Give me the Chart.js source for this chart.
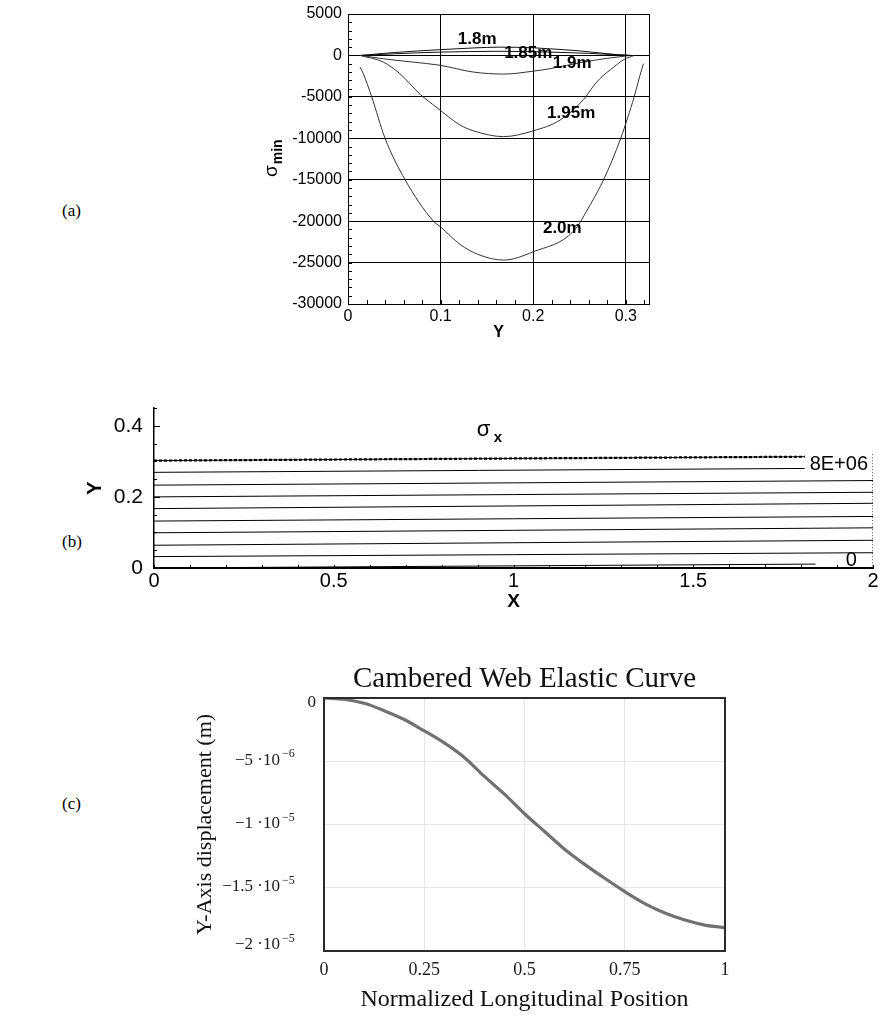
<!DOCTYPE html>
<html><head><meta charset="utf-8">
<script src="https://cdn.jsdelivr.net/npm/chart.js@4.4.1/dist/chart.umd.min.js"></script>
<style>
html,body{margin:0;padding:0;background:#fff;}
body{width:880px;height:1029px;position:relative;overflow:hidden;}
canvas{position:absolute;}
.lab{position:absolute;font-family:"Liberation Serif",serif;font-size:17px;color:#000;line-height:1;}
</style></head><body>
<div class="lab" style="left:62px;top:202px">(a)</div>
<div class="lab" style="left:62px;top:533px">(b)</div>
<div class="lab" style="left:62px;top:795px">(c)</div>
<canvas id="ca" width="440" height="350" style="left:230px;top:0px"></canvas>
<canvas id="cb" width="820" height="235" style="left:60px;top:395px"></canvas>
<canvas id="cc" width="580" height="379" style="left:190px;top:650px"></canvas>
<script>
// ================= (a) sigma_min vs Y =================
const aCurveNames = ['1.8m','1.85m','1.9m','1.95m','2.0m'];
const a18X  = [0.014,0.05,0.1,0.135,0.164,0.2,0.218,0.25,0.29,0.305];
const a18Y  = [0,350,700,900,1000,920,800,550,100,0];
const a185X = [0.014,0.05,0.1,0.164,0.22,0.26,0.305];
const a185Y = [0,200,400,500,400,250,0];
const a19X  = [0.014,0.038,0.07,0.1,0.135,0.168,0.2,0.218,0.254,0.28,0.305];
const a19Y  = [0,-400,-800,-1200,-2000,-2250,-1900,-1600,-800,-350,0];
const a195X = [0.013,0.038,0.056,0.078,0.096,0.121,0.1355,0.168,0.2,0.229,0.2545,0.265,0.272,0.287,0.298,0.309];
const a195Y = [0,-800,-2200,-4700,-6300,-8400,-9100,-9800,-9100,-7800,-5300,-3700,-2800,-1400,-500,0];
const a20X  = [0.013,0.0165,0.0256,0.04,0.0616,0.0922,0.1,0.121,0.14,0.168,0.2,0.2436,0.2616,0.276,0.2945,0.302,0.309,0.315,0.319];
const a20Y  = [-1400,-2200,-5000,-10000,-15000,-20000,-20700,-22800,-24000,-24700,-23700,-21200,-18000,-15000,-10000,-7500,-5000,-2500,-1000];
const aXTicks = [0,0.1,0.2,0.3];
const aXTickLabels = ['0','0.1','0.2','0.3'];
const aYTicks = [5000,0,-5000,-10000,-15000,-20000,-25000,-30000];
const aYTickLabels = ['5000','0','-5000','-10000','-15000','-20000','-25000','-30000'];
// label anchor (data coords) for each curve name
const aLabelX = [0.1395,0.1946,0.242,0.241,0.2314];
const aLabelY = [1920,240,-960,-6960,-20880];

// ================= (b) sigma_x contours =================
const bLineLeftY  = [0.302,0.269,0.233,0.200,0.167,0.132,0.099,0.064,0.032,0.000];
const bLineRightY = [0.313,0.280,0.246,0.213,0.182,0.145,0.113,0.078,0.043,0.011];
const bLineEndX   = [1.81,1.81,2,2,2,2,2,2,2,1.84];
const bXTicks = [0,0.5,1,1.5,2];
const bXTickLabels = ['0','0.5','1','1.5','2'];
const bYTicks = [0,0.2,0.4];
const bYTickLabels = ['0','0.2','0.4'];
const bContourLabels = ['8E+06','0'];

// ================= (c) Cambered web elastic curve =================
const cX = [0,0.05,0.1,0.15,0.2,0.25,0.3,0.35,0.4,0.45,0.5,0.55,0.6,0.65,0.7,0.75,0.8,0.85,0.9,0.95,1.0];
const cY = [0,-0.1e-6,-0.42e-6,-1.0e-6,-1.7e-6,-2.6e-6,-3.55e-6,-4.7e-6,-6.2e-6,-7.6e-6,-9.15e-6,-10.55e-6,-11.95e-6,-13.15e-6,-14.25e-6,-15.3e-6,-16.25e-6,-17.0e-6,-17.55e-6,-17.95e-6,-18.15e-6];
const cXTicks = [0,0.25,0.5,0.75,1];
const cXTickLabels = ['0','0.25','0.5','0.75','1'];
const cYTicks = [0,-5e-6,-1e-5,-1.5e-5,-2e-5];
const cYTickBase = ['0','\u22125 \u00b710','\u22121 \u00b710','\u22121.5 \u00b710','\u22122 \u00b710'];
const cYTickExp  = ['','\u22126','\u22125','\u22125','\u22125'];

// ---------- helpers ----------
const pts = (xs, ys) => xs.map((x, i) => ({x: x, y: ys[i]}));
const SANS = '"Liberation Sans", Arial, sans-serif';
const SERIF = '"Liberation Serif", "Times New Roman", serif';
function fixW(w) { return s => { s.width = w; s.paddingTop = 0; s.paddingBottom = 0; s.paddingLeft = 0; s.paddingRight = 0; }; }
function fixH(h) { return s => { s.height = h; s.paddingTop = 0; s.paddingBottom = 0; s.paddingLeft = 0; s.paddingRight = 0; }; }

function minorTicks(id, specs) {
  return {id: id, afterDraw(chart) {
    const ctx = chart.ctx, ca = chart.chartArea;
    ctx.save(); ctx.strokeStyle = '#000'; ctx.lineWidth = 1;
    specs.forEach(sp => {
      const sc = chart.scales[sp.axis];
      sp.values.forEach(v => {
        const p = Math.round(sc.getPixelForValue(v)) + 0.5;
        ctx.beginPath();
        if (sp.axis === 'x') { ctx.moveTo(p, ca.bottom); ctx.lineTo(p, ca.bottom - sp.len); }
        else { ctx.moveTo(ca.left, p); ctx.lineTo(ca.left + sp.len, p); }
        ctx.stroke();
      });
    });
    ctx.restore();
  }};
}
function range(a, b, s) { const out = []; for (let k = 0; a + k * s <= b + 1e-9; k++) out.push(+(a + k * s).toFixed(6)); return out; }

// ================= chart (a) =================
const aSeries = [[a18X,a18Y],[a185X,a185Y],[a19X,a19Y],[a195X,a195Y],[a20X,a20Y]];
new Chart(document.getElementById('ca'), {
  type: 'scatter',
  data: {datasets: aSeries.map((s, i) => ({
    label: aCurveNames[i], data: pts(s[0], s[1]), showLine: true,
    borderColor: i < 2 ? '#111' : '#333', borderWidth: 1, pointRadius: 0,
    cubicInterpolationMode: 'monotone', fill: false
  }))},
  options: {
    responsive: false, animation: false, events: [],
    layout: {autoPadding: false, padding: {top: 14, right: 21, left: 0, bottom: 8}},
    plugins: {legend: {display: false}, tooltip: {enabled: false}},
    scales: {
      x: {type: 'linear', min: 0, max: 0.325,
        afterBuildTicks: s => { s.ticks = aXTicks.map(v => ({value: v})); },
        afterFit: fixH(38),
        grid: {color: '#000', lineWidth: 1, drawTicks: false},
        border: {color: '#000', width: 1},
        ticks: {color: '#000', font: {family: SANS, size: 16}, padding: 3, maxRotation: 0,
          callback: (v, i) => aXTickLabels[i]},
        title: {display: true, text: 'Y', color: '#000', font: {family: SANS, size: 16, weight: 'bold'}, padding: {top: 0, bottom: 0}}
      },
      y: {type: 'linear', min: -30000, max: 5000,
        afterBuildTicks: s => { s.ticks = aYTicks.map(v => ({value: v})); },
        afterFit: fixW(118),
        grid: {color: '#000', lineWidth: 1, drawTicks: false},
        border: {color: '#000', width: 1},
        ticks: {color: '#000', font: {family: SANS, size: 16}, padding: 6,
          callback: (v, i) => aYTickLabels[i]}
      }
    }
  },
  plugins: [
    minorTicks('aMinor', [{axis: 'y', values: range(-30000, 5000, 1000), len: 4},
                          {axis: 'x', values: range(0, 0.32, 0.02), len: 4}]),
    {id: 'aDeco', afterDraw(chart) {
      const ctx = chart.ctx, ca = chart.chartArea, xs = chart.scales.x, ys = chart.scales.y;
      ctx.save();
      ctx.strokeStyle = '#000'; ctx.lineWidth = 1;
      ctx.strokeRect(Math.round(ca.left) + 0.5, Math.round(ca.top) + 0.5, Math.round(ca.right - ca.left), Math.round(ca.bottom - ca.top));
      // curve labels
      ctx.fillStyle = '#000'; ctx.font = 'bold 17px ' + SANS; ctx.textAlign = 'center'; ctx.textBaseline = 'middle';
      aCurveNames.forEach((n, i) => ctx.fillText(n, xs.getPixelForValue(aLabelX[i]), ys.getPixelForValue(aLabelY[i])));
      // y axis title sigma_min (rotated), canvas-local coordinates
      ctx.translate(47, 177); ctx.rotate(-Math.PI / 2);
      ctx.textAlign = 'left'; ctx.textBaseline = 'alphabetic';
      ctx.font = '19px ' + SANS; ctx.fillText('\u03c3', 0, 0);
      const w = ctx.measureText('\u03c3').width;
      ctx.font = 'bold 14px ' + SANS; ctx.fillText('min', w + 1, 5);
      ctx.restore();
    }}
  ]
});

// ================= chart (b) =================
const bData = [];
bLineLeftY.forEach((y0, i) => {
  bData.push({data: pts([0, bLineEndX[i]], [y0, bLineRightY[i]]), showLine: true, borderColor: '#000', borderWidth: 1, pointRadius: 0});
});
bData.push({data: pts([0, bLineEndX[0]], [bLineLeftY[0], bLineRightY[0]]), showLine: true, borderColor: '#000', borderWidth: 2.2, borderDash: [3, 2], pointRadius: 0});
new Chart(document.getElementById('cb'), {
  type: 'scatter',
  data: {datasets: bData},
  options: {
    responsive: false, animation: false, events: [],
    layout: {autoPadding: false, padding: {top: 13, right: 7, left: 0, bottom: 0}},
    plugins: {legend: {display: false}, tooltip: {enabled: false}},
    scales: {
      x: {type: 'linear', min: 0, max: 2,
        afterBuildTicks: s => { s.ticks = bXTicks.map(v => ({value: v})); },
        afterFit: fixH(62),
        grid: {display: false, drawTicks: false},
        border: {color: '#000', width: 2},
        ticks: {color: '#000', font: {family: SANS, size: 20}, padding: 1, maxRotation: 0,
          callback: (v, i) => bXTickLabels[i]},
        title: {display: true, text: 'X', color: '#000', font: {family: SANS, size: 19, weight: 'bold'}, padding: {top: 0, bottom: 17}}
      },
      y: {type: 'linear', min: 0, max: 0.45,
        afterBuildTicks: s => { s.ticks = bYTicks.map(v => ({value: v})); },
        afterFit: fixW(94),
        grid: {display: false, drawTicks: false},
        border: {color: '#000', width: 1.5},
        ticks: {color: '#000', font: {family: SANS, size: 21}, padding: 11,
          callback: (v, i) => bYTickLabels[i]},
        title: {display: true, text: 'Y', color: '#000', font: {family: SANS, size: 20, weight: 'bold'}, padding: {top: 23, bottom: 0}}
      }
    }
  },
  plugins: [
    minorTicks('bMinor', [{axis: 'y', values: range(0, 0.45, 0.05), len: 3},
                          {axis: 'y', values: bYTicks, len: 6},
                          {axis: 'x', values: range(0, 2, 0.1), len: 3}]),
    {id: 'bDeco', afterDraw(chart) {
      const ctx = chart.ctx, ca = chart.chartArea, xs = chart.scales.x, ys = chart.scales.y;
      ctx.save();
      // dotted right edge
      ctx.strokeStyle = '#555'; ctx.lineWidth = 1; ctx.setLineDash([1, 2]);
      ctx.beginPath(); ctx.moveTo(Math.round(ca.right) - 0.5, ys.getPixelForValue(0.32)); ctx.lineTo(Math.round(ca.right) - 0.5, ca.bottom); ctx.stroke();
      ctx.setLineDash([]);
      ctx.fillStyle = '#000'; ctx.textAlign = 'center'; ctx.textBaseline = 'middle';
      // title sigma_x
      ctx.font = '22px ' + SANS; ctx.fillText('\u03c3', xs.getPixelForValue(0.917), ys.getPixelForValue(0.388));
      ctx.font = 'bold 15px ' + SANS; ctx.fillText('x', xs.getPixelForValue(0.957), ys.getPixelForValue(0.366));
      // contour labels
      ctx.font = '20px ' + SANS;
      ctx.fillText(bContourLabels[0], xs.getPixelForValue(1.905), ys.getPixelForValue(0.29));
      ctx.fillText(bContourLabels[1], xs.getPixelForValue(1.94), ys.getPixelForValue(0.022));
      ctx.restore();
    }}
  ]
});

// ================= chart (c) =================
new Chart(document.getElementById('cc'), {
  type: 'scatter',
  data: {datasets: [{data: pts(cX, cY), showLine: true, borderColor: '#717171', borderWidth: 3.2, pointRadius: 0, cubicInterpolationMode: 'monotone'}]},
  options: {
    responsive: false, animation: false, events: [],
    layout: {autoPadding: false, padding: {top: 48, right: 45, left: 0, bottom: 0}},
    plugins: {legend: {display: false}, tooltip: {enabled: false}},
    scales: {
      x: {type: 'linear', min: 0, max: 1,
        afterBuildTicks: s => { s.ticks = cXTicks.map(v => ({value: v})); },
        afterFit: fixH(78),
        grid: {color: '#e6e6e6', lineWidth: 1, drawTicks: false},
        border: {display: false},
        ticks: {color: '#1a1a1a', font: {family: SERIF, size: 18}, padding: 8, maxRotation: 0,
          callback: (v, i) => cXTickLabels[i]},
        title: {display: true, text: 'Normalized Longitudinal Position', color: '#111', font: {family: SERIF, size: 24}, padding: {top: 0, bottom: 15}}
      },
      y: {type: 'linear', min: -2e-5, max: 0,
        afterBuildTicks: s => { s.ticks = cYTicks.map(v => ({value: v})); },
        afterFit: fixW(134),
        grid: {color: '#e6e6e6', lineWidth: 1, drawTicks: false},
        border: {display: false},
        ticks: {display: false},
        title: {display: true, text: 'Y-Axis displacement (m)', color: '#111', font: {family: SERIF, size: 22}, padding: {top: 2, bottom: 0}}
      }
    }
  },
  plugins: [{id: 'cDeco', afterDraw(chart) {
    const ctx = chart.ctx, ca = chart.chartArea, ys = chart.scales.y;
    ctx.save();
    ctx.strokeStyle = '#2b2b2b'; ctx.lineWidth = 2;
    ctx.strokeRect(ca.left, ca.top, ca.right - ca.left, ca.bottom - ca.top);
    // title
    ctx.fillStyle = '#111'; ctx.font = '29px ' + SERIF; ctx.textAlign = 'center'; ctx.textBaseline = 'alphabetic';
    ctx.fillText('Cambered Web Elastic Curve', (ca.left + ca.right) / 2, ca.top - 11);
    // y tick labels with superscript exponents
    ctx.fillStyle = '#1a1a1a'; ctx.textBaseline = 'middle';
    cYTicks.forEach((v, i) => {
      let py = ys.getPixelForValue(v);
      py = Math.min(Math.max(py, ca.top + 5), ca.bottom - 5) - 1;
      if (cYTickExp[i] === '') {
        ctx.font = '17px ' + SERIF; ctx.textAlign = 'right';
        ctx.fillText(cYTickBase[i], ca.left - 8, py + 1);
      } else {
        const baseRight = ca.left - 44;
        ctx.font = '17px ' + SERIF; ctx.textAlign = 'right';
        ctx.fillText(cYTickBase[i], baseRight, py);
        ctx.font = '12px ' + SERIF; ctx.textAlign = 'left';
        ctx.fillText(cYTickExp[i], baseRight + 2, py - 6);
      }
    });
    ctx.restore();
  }}]
});
</script>
</body></html>
